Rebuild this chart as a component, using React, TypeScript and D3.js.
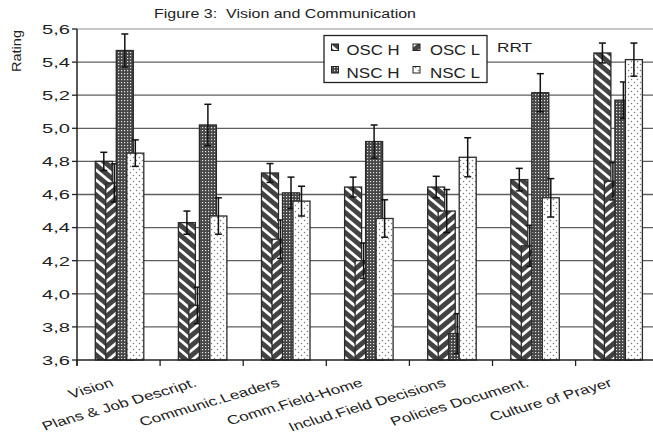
import React from "react";
import * as d3 from "d3";

const categories = [
  "Vision",
  "Plans & Job Descript.",
  "Communic.Leaders",
  "Comm.Field-Home",
  "Includ.Field Decisions",
  "Policies Document.",
  "Culture of Prayer",
];
const seriesNames = ["OSC H", "OSC L", "NSC H", "NSC L"];
const oscH = [4.8, 4.43, 4.73, 4.645, 4.645, 4.69, 5.455];
const oscL = [4.67, 3.93, 4.33, 4.2, 4.5, 4.29, 4.68];
const nscH = [5.47, 5.02, 4.61, 4.92, 3.76, 5.215, 5.17];
const nscL = [4.85, 4.47, 4.56, 4.455, 4.825, 4.58, 5.415];
const oscHErr = [0.055, 0.07, 0.057, 0.06, 0.065, 0.068, 0.06];
const oscLErr = [0.115, 0.11, 0.116, 0.107, 0.13, 0.124, 0.113];
const nscHErr = [0.1, 0.125, 0.095, 0.1, 0.12, 0.115, 0.11];
const nscLErr = [0.08, 0.11, 0.09, 0.113, 0.118, 0.116, 0.1];
const yTicks = [3.6, 3.8, 4.0, 4.2, 4.4, 4.6, 4.8, 5.0, 5.2, 5.4, 5.6];
const titleText = "Figure 3:  Vision and Communication";
const yAxisTitle = "Rating";
const extraLegendText = "RRT";

const seriesValues = [oscH, oscL, nscH, nscL];
const seriesErrors = [oscHErr, oscLErr, nscHErr, nscLErr];
const patternIds = ["pOscH", "pOscL", "pNscH", "pNscL"];

export default function App() {
  const W = 653;
  const H = 437;
  const left = 77;
  const step = 83.1;
  const x = d3
    .scaleBand<string>()
    .domain(categories)
    .range([left, left + step * categories.length])
    .padding(0);
  const y = d3.scaleLinear().domain([3.6, 5.6]).range([360, 29]);
  const sub = d3.scaleLinear().domain([0, 1]).range([18.3, 28.8]);
  const barW = 17;
  const capW = 7;
  const fmt = (v: number) => d3.format(".1f")(v).replace(".", ",");
  const boundaries = categories.map((c) => x(c) as number);
  const textLens = { "OSC H": 53, "OSC L": 50, "NSC H": 53, "NSC L": 50 } as Record<string, number>;

  const legendItems = seriesNames.map((name, i) => ({
    name,
    col: i % 2,
    row: Math.floor(i / 2),
    pid: patternIds[i],
  }));

  return (
    <svg
      width={W}
      height={H}
      style={{ position: "absolute", left: 0, top: 0, background: "#fff" }}
      fontFamily="'Liberation Sans', Arial, sans-serif"
    >
      <defs>
        <pattern id="pOscH" patternUnits="userSpaceOnUse" width={12} height={10}>
          <rect width={12} height={10} fill="#434343" />
          <path
            d="M-3,-2.5 L15,12.5 M-3,7.5 L15,22.5 M-3,-12.5 L15,2.5"
            stroke="#fff"
            strokeWidth={2.8}
          />
        </pattern>
        <pattern id="pOscL" patternUnits="userSpaceOnUse" width={12} height={10}>
          <rect width={12} height={10} fill="#434343" />
          <path
            d="M-3,12.5 L15,-2.5 M-3,22.5 L15,7.5 M-3,2.5 L15,-12.5"
            stroke="#fff"
            strokeWidth={2.8}
          />
        </pattern>
        <pattern id="pNscH" patternUnits="userSpaceOnUse" width={3} height={3}>
          <rect width={3} height={3} fill="#474747" />
          <rect x={1} y={1} width={1.2} height={1.2} fill="#e0e0e0" />
        </pattern>
        <pattern id="pNscL" patternUnits="userSpaceOnUse" width={6} height={6}>
          <rect width={6} height={6} fill="#fff" />
          <circle cx={1.5} cy={1.5} r={0.75} fill="#777" />
          <circle cx={4.5} cy={4.5} r={0.75} fill="#777" />
        </pattern>
      </defs>

      {/* title */}
      <text
        x={285}
        y={18}
        textAnchor="middle"
        fontSize={12.5}
        textLength={262}
        lengthAdjust="spacingAndGlyphs"
        style={{ whiteSpace: "pre" }}
        fill="#222"
      >
        {titleText}
      </text>

      {/* gridlines */}
      {yTicks.slice(1).map((t) => (
        <line
          key={"g" + t}
          x1={left}
          x2={W}
          y1={y(t)}
          y2={y(t)}
          stroke={t === 5.6 ? "#b5b5b5" : "#5e5e5e"}
          strokeWidth={1.3}
        />
      ))}

      {/* bars and error bars, drawn series by series */}
      {seriesValues.map((vals, si) => (
        <g key={"s" + si}>
          {vals.map((v, ci) => {
            const x0 = (x(categories[ci]) as number) + sub(si);
            return (
              <rect
                key={"b" + ci}
                x={x0}
                y={y(v)}
                width={barW}
                height={y(3.6) - y(v)}
                fill={`url(#${patternIds[si]})`}
                stroke="#2a2a2a"
                strokeWidth={1.3}
              />
            );
          })}
          {vals.map((v, ci) => {
            const cx = (x(categories[ci]) as number) + sub(si) + barW / 2;
            const e = seriesErrors[si][ci];
            const yt = y(v + e);
            const yb = y(v - e);
            return (
              <g key={"e" + ci} stroke="#111" strokeWidth={1.5}>
                <line x1={cx} x2={cx} y1={yt} y2={yb} />
                <line x1={cx - capW / 2} x2={cx + capW / 2} y1={yt} y2={yt} />
                <line x1={cx - capW / 2} x2={cx + capW / 2} y1={yb} y2={yb} />
              </g>
            );
          })}
        </g>
      ))}

      {/* axes */}
      <line x1={left} x2={left} y1={y(5.6)} y2={366} stroke="#222" strokeWidth={1.5} />
      <line x1={left} x2={W} y1={y(3.6)} y2={y(3.6)} stroke="#222" strokeWidth={1.5} />
      {yTicks.map((t) => (
        <line key={"yt" + t} x1={left - 5} x2={left} y1={y(t)} y2={y(t)} stroke="#222" strokeWidth={1.3} />
      ))}
      {boundaries.map((b, i) => (
        <line key={"xt" + i} x1={b} x2={b} y1={y(3.6)} y2={366} stroke="#222" strokeWidth={1.3} />
      ))}

      {/* y tick labels */}
      {yTicks.map((t) => (
        <text
          key={"yl" + t}
          x={70}
          y={y(t) + 4.8}
          textAnchor="end"
          fontSize={13}
          textLength={28}
          lengthAdjust="spacingAndGlyphs"
          fill="#222"
        >
          {fmt(t)}
        </text>
      ))}

      {/* y axis title */}
      <text
        transform={`translate(21,51) rotate(-90)`}
        textAnchor="middle"
        fontSize={13}
        textLength={42}
        lengthAdjust="spacingAndGlyphs"
        fill="#222"
      >
        {yAxisTitle}
      </text>

      {/* category labels */}
      {categories.map((c) => {
        const cx = (x(c) as number) + x.bandwidth() / 2;
        return (
          <text
            key={"cl" + c}
            transform={`translate(${cx - 4},386) scale(1.38,1) rotate(-22)`}
            textAnchor="end"
            fontSize={12.5}
            fill="#222"
          >
            {c}
          </text>
        );
      })}

      {/* legend */}
      <rect x={324} y={35.5} width={163} height={47} fill="#fff" stroke="#222" strokeWidth={1.3} />
      {legendItems.map((it) => {
        const sx = it.col === 0 ? 331.5 : 413;
        const tx = it.col === 0 ? 346.5 : 430;
        const by = it.row === 0 ? 55 : 77.5;
        return (
          <g key={"lg" + it.name}>
            <rect
              x={sx}
              y={by - 11}
              width={7}
              height={6.5}
              fill={`url(#${it.pid})`}
              stroke="#222"
              strokeWidth={1}
            />
            <text
              x={tx}
              y={by}
              fontSize={14.5}
              textLength={textLens[it.name]}
              lengthAdjust="spacingAndGlyphs"
              style={{ whiteSpace: "pre" }}
              fill="#222"
            >
              {it.name}
            </text>
          </g>
        );
      })}
      <text x={497} y={52} fontSize={13.5} textLength={35} lengthAdjust="spacingAndGlyphs" fill="#222">
        {extraLegendText}
      </text>
    </svg>
  );
}
